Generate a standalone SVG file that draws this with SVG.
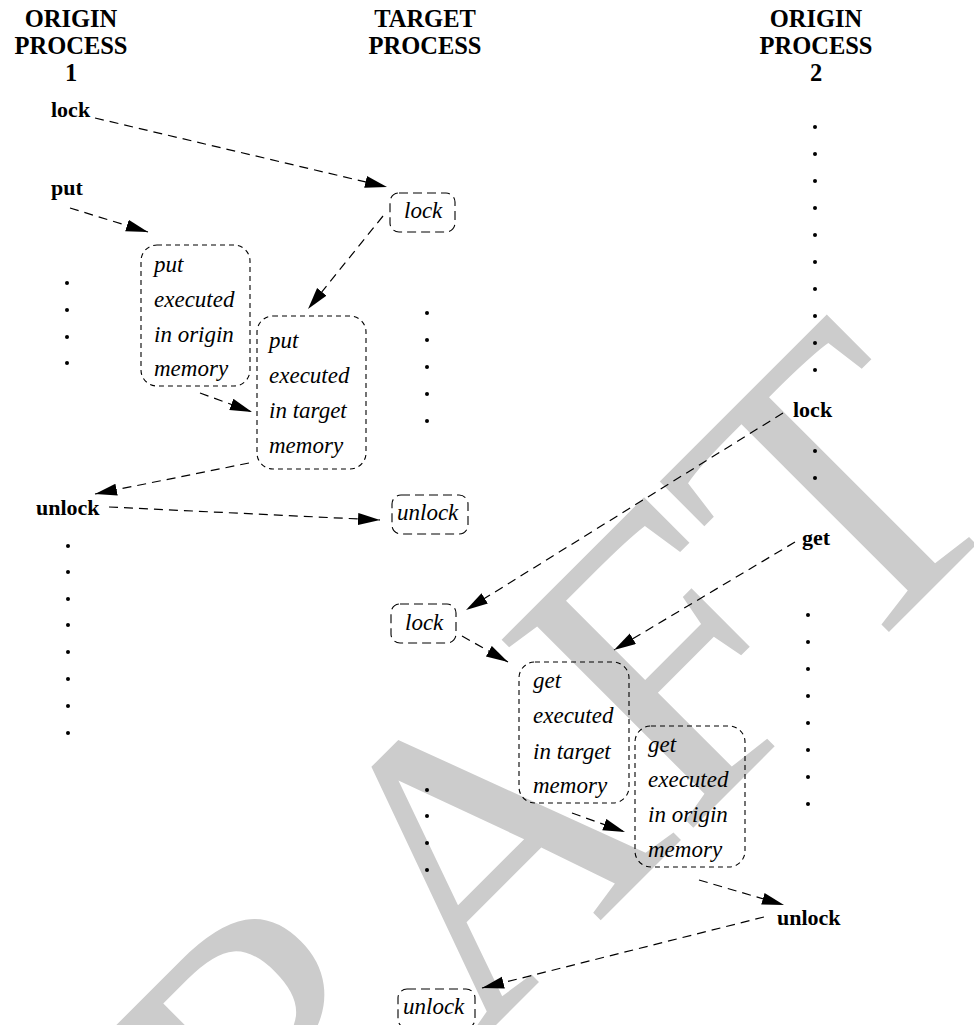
<svg xmlns="http://www.w3.org/2000/svg" width="974" height="1025" viewBox="0 0 974 1025">
<style>
text{font-family:"Liberation Serif","Times New Roman",serif;fill:#000}
.h{font-weight:bold;font-size:24.5px;text-anchor:middle}
.b{font-weight:bold;font-size:22px}
.i{font-style:italic;font-size:23px}
.wm{font-size:410px;fill:#cccccc}
.box{fill:none;stroke:#000;stroke-width:1.1}
.sm{stroke-dasharray:9 5}
.lg{stroke-dasharray:5 4}
.c line{stroke:#000;stroke-width:1.2;stroke-dasharray:9 6;marker-end:url(#ah)}
.d circle{fill:#000}
</style>
<defs>
<marker id="ah" markerUnits="userSpaceOnUse" markerWidth="24" markerHeight="14" refX="22" refY="6" orient="auto">
<path d="M0,0 L22,6 L0,12 z" fill="#000"/>
</marker>
</defs>
<rect width="974" height="1025" fill="#fff"/>
<text class="wm" x="71" y="1450" transform="rotate(-45 71 1450)">DRAFT</text>

<g id="hdr1"><text class="h" x="71" y="27">ORIGIN</text><text class="h" x="71" y="54">PROCESS</text><text class="h" x="71" y="81">1</text></g>
<g id="hdr2"><text class="h" x="425" y="27">TARGET</text><text class="h" x="425" y="54">PROCESS</text></g>
<g id="hdr3"><text class="h" x="816" y="27">ORIGIN</text><text class="h" x="816" y="54">PROCESS</text><text class="h" x="816" y="81">2</text></g>

<g id="o1-lock"><text class="b" x="51" y="117">lock</text></g>
<g id="o1-put"><text class="b" x="51" y="195">put</text></g>
<g id="o1-unlock"><text class="b" x="36" y="515">unlock</text></g>
<g id="o2-lock"><text class="b" x="793" y="417">lock</text></g>
<g id="o2-get"><text class="b" x="802" y="545">get</text></g>
<g id="o2-unlock"><text class="b" x="777" y="925">unlock</text></g>

<g id="t-lock1"><rect class="box sm" x="390" y="193" width="65" height="39" rx="9"/><text class="i" x="404" y="218">lock</text></g>
<g id="put-origin"><rect class="box lg" x="141" y="245" width="109" height="141" rx="16"/>
<text class="i" x="154" y="272">put</text><text class="i" x="154" y="307">executed</text><text class="i" x="154" y="342">in origin</text><text class="i" x="154" y="376">memory</text></g>
<g id="put-target"><rect class="box lg" x="257" y="316" width="109" height="153" rx="16"/>
<text class="i" x="269" y="348">put</text><text class="i" x="269" y="383">executed</text><text class="i" x="269" y="418">in target</text><text class="i" x="269" y="453">memory</text></g>
<g id="t-unlock1"><rect class="box sm" x="392" y="495" width="76" height="39" rx="9"/><text class="i" x="397" y="520">unlock</text></g>
<g id="t-lock2"><rect class="box sm" x="391" y="604" width="65" height="39" rx="9"/><text class="i" x="405" y="630">lock</text></g>
<g id="get-target"><rect class="box lg" x="519" y="662" width="110" height="141" rx="16"/>
<text class="i" x="533" y="688">get</text><text class="i" x="533" y="723">executed</text><text class="i" x="533" y="759">in target</text><text class="i" x="533" y="793">memory</text></g>
<g id="get-origin"><rect class="box lg" x="635" y="726" width="110" height="141" rx="16"/>
<text class="i" x="648" y="752">get</text><text class="i" x="648" y="787">executed</text><text class="i" x="648" y="822">in origin</text><text class="i" x="648" y="857">memory</text></g>
<g id="t-unlock2"><rect class="box sm" x="398" y="989" width="77" height="39" rx="9"/><text class="i" x="403" y="1014">unlock</text></g>

<g id="dots" class="d">
<circle cx="67" cy="283" r="2"/><circle cx="67" cy="310" r="2"/><circle cx="67" cy="337" r="2"/><circle cx="67" cy="363" r="2"/>
<circle cx="68" cy="546" r="2"/><circle cx="68" cy="572" r="2"/><circle cx="68" cy="599" r="2"/><circle cx="68" cy="625" r="2"/><circle cx="68" cy="652" r="2"/><circle cx="68" cy="679" r="2"/><circle cx="68" cy="706" r="2"/><circle cx="68" cy="733" r="2"/>
<circle cx="427" cy="313" r="2"/><circle cx="427" cy="340" r="2"/><circle cx="427" cy="367" r="2"/><circle cx="427" cy="394" r="2"/><circle cx="427" cy="421" r="2"/>
<circle cx="427" cy="790" r="2"/><circle cx="427" cy="816" r="2"/><circle cx="427" cy="843" r="2"/><circle cx="427" cy="870" r="2"/>
<circle cx="815" cy="127" r="2"/><circle cx="815" cy="154" r="2"/><circle cx="815" cy="181" r="2"/><circle cx="815" cy="208" r="2"/><circle cx="815" cy="235" r="2"/><circle cx="815" cy="262" r="2"/><circle cx="815" cy="289" r="2"/><circle cx="815" cy="316" r="2"/><circle cx="815" cy="343" r="2"/><circle cx="815" cy="370" r="2"/>
<circle cx="815" cy="451" r="2"/><circle cx="815" cy="478" r="2"/>
<circle cx="808" cy="615" r="2"/><circle cx="808" cy="642" r="2"/><circle cx="808" cy="669" r="2"/><circle cx="808" cy="696" r="2"/><circle cx="808" cy="723" r="2"/><circle cx="808" cy="750" r="2"/><circle cx="808" cy="777" r="2"/><circle cx="808" cy="804" r="2"/>
</g>

<g id="connectors" class="c">
<line x1="95" y1="118" x2="387" y2="187"/>
<line x1="70" y1="208" x2="148" y2="232"/>
<line x1="383" y1="216" x2="308" y2="309"/>
<line x1="200" y1="393" x2="252" y2="412"/>
<line x1="249" y1="463" x2="95" y2="494"/>
<line x1="109" y1="507" x2="380" y2="520"/>
<line x1="783" y1="413" x2="466" y2="610"/>
<line x1="795" y1="542" x2="614" y2="650"/>
<line x1="462" y1="636" x2="508" y2="662"/>
<line x1="572" y1="813" x2="625" y2="832"/>
<line x1="699" y1="880" x2="784" y2="905"/>
<line x1="764" y1="917" x2="482" y2="988"/>
</g>
</svg>
